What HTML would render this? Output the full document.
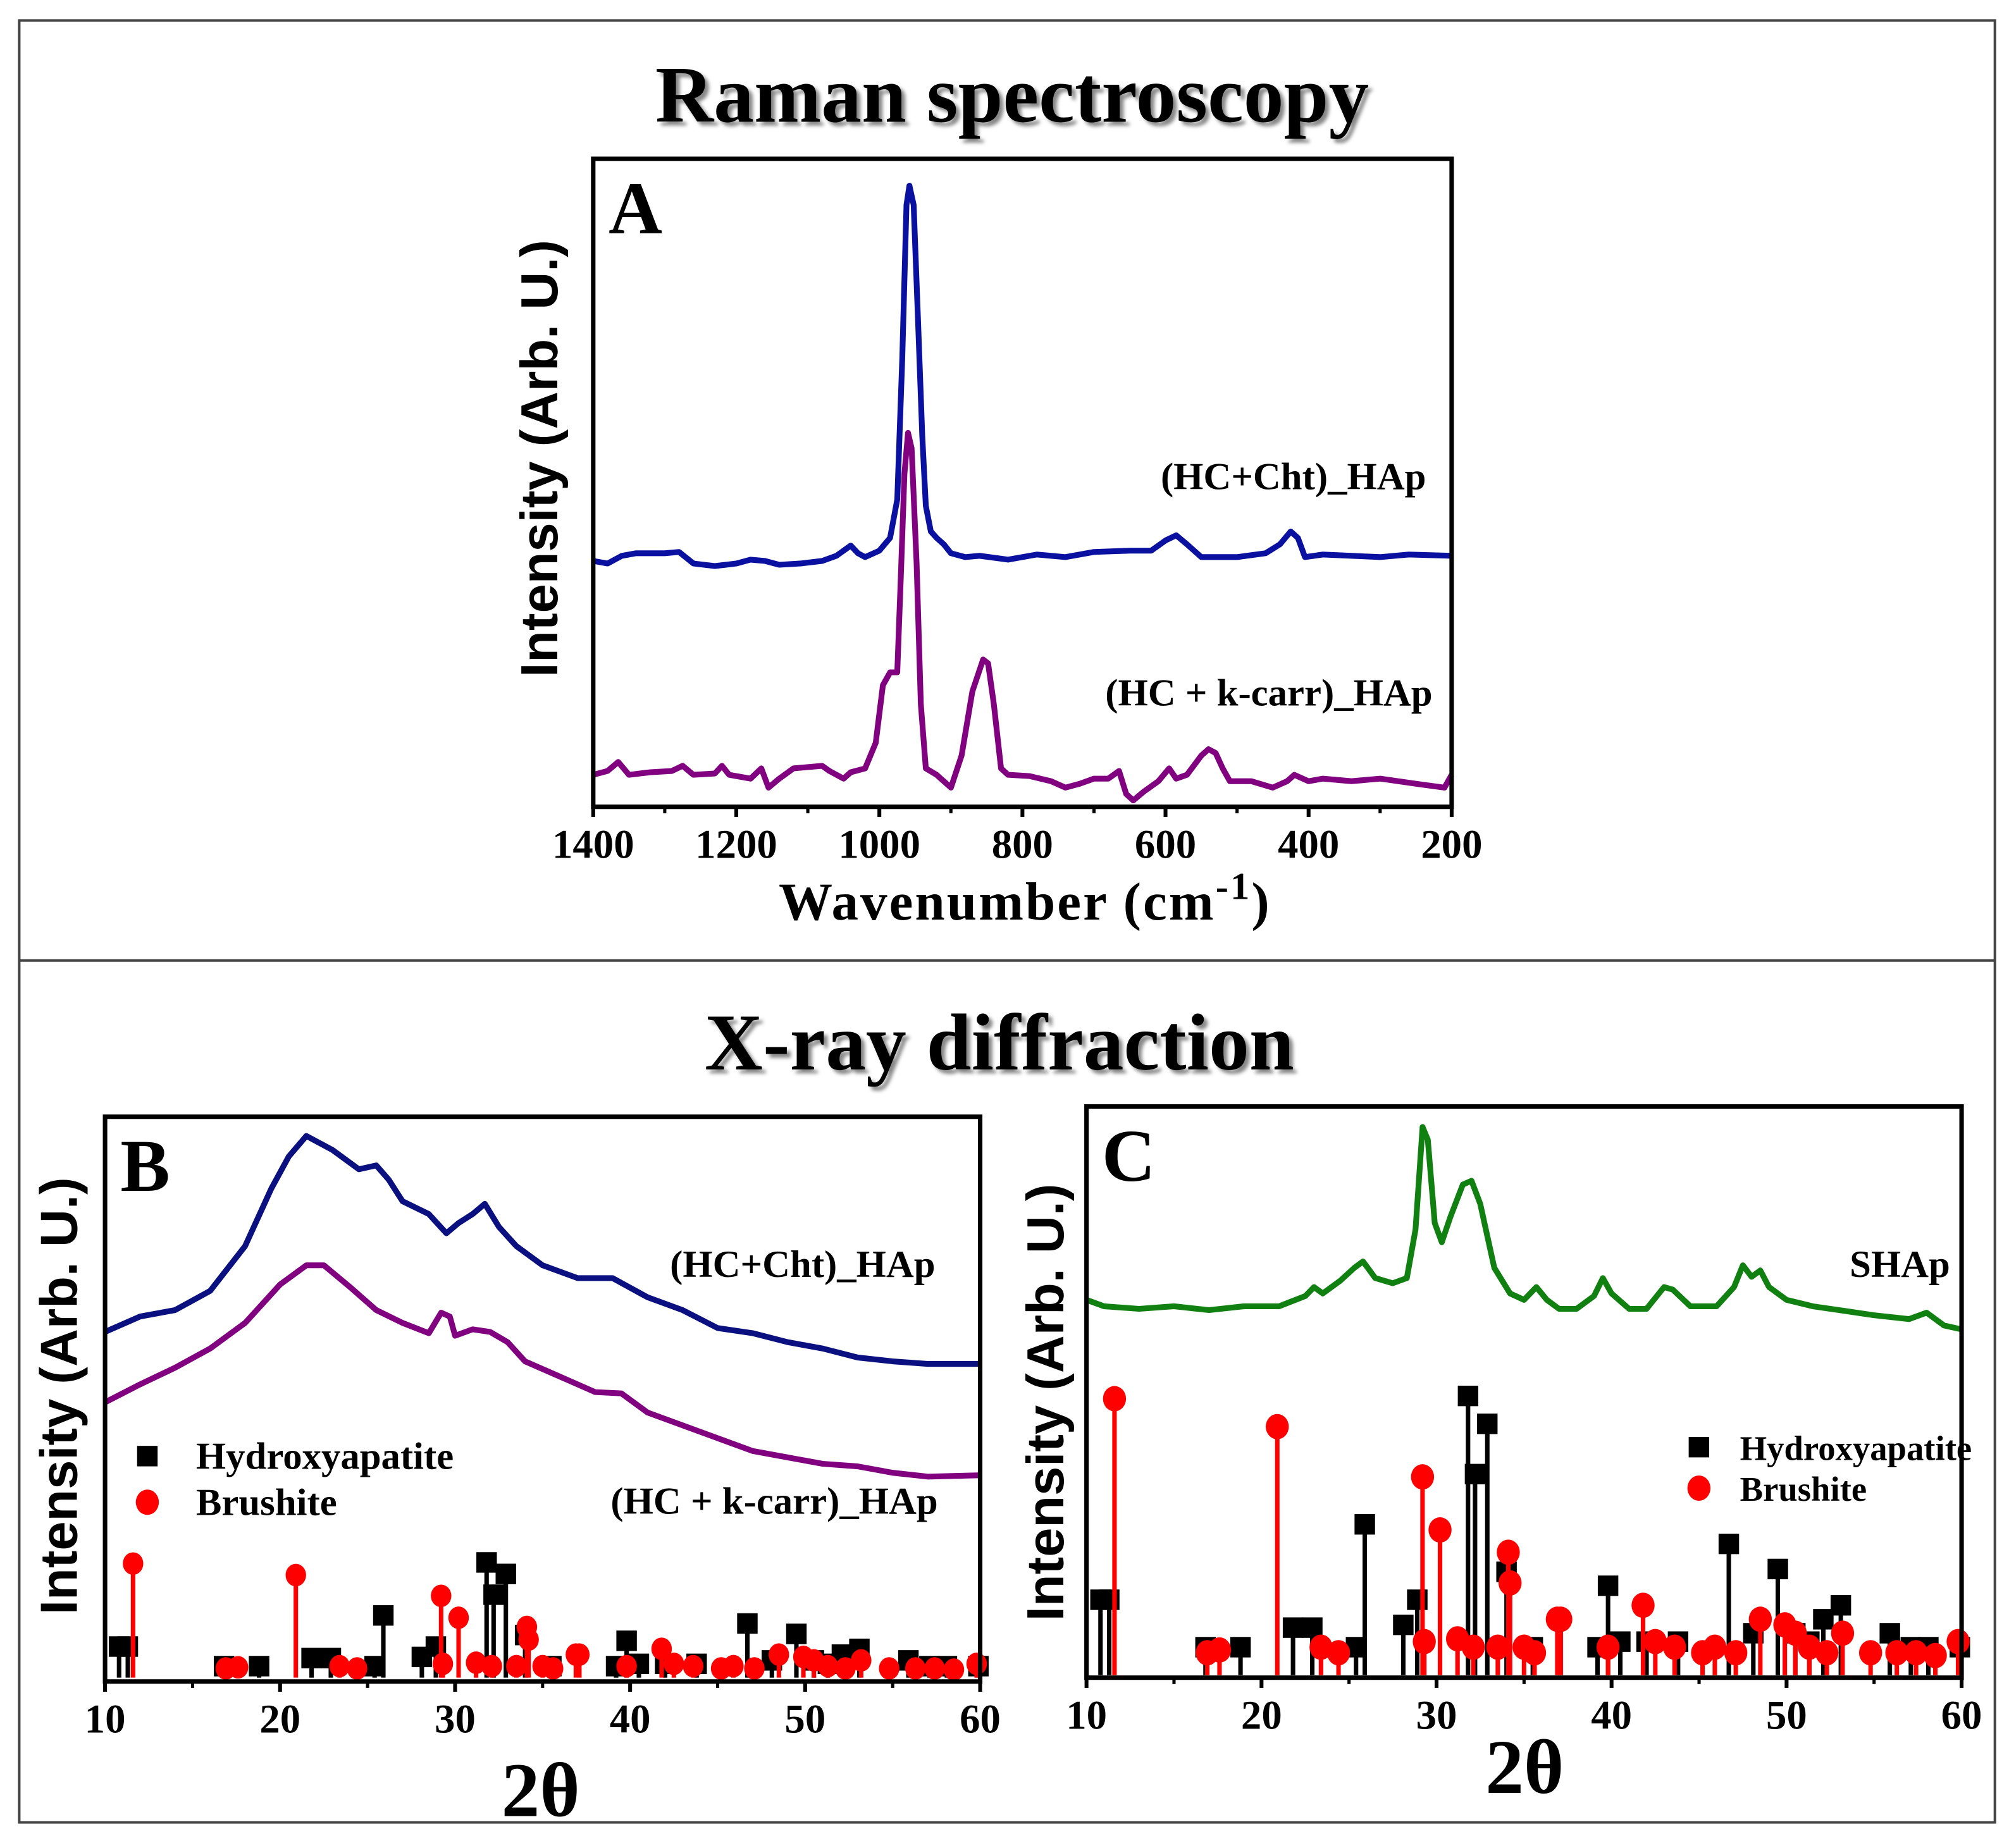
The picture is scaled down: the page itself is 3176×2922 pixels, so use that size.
<!DOCTYPE html>
<html><head><meta charset="utf-8"><style>
html,body{margin:0;padding:0;background:#fff}
svg{display:block}
.ttl{font-family:"Liberation Serif",serif;font-weight:bold;font-size:63px;fill:#000}
.tick{font-family:"Liberation Serif",serif;font-weight:bold;font-size:32px;fill:#000}
.lab{font-family:"Liberation Serif",serif;font-weight:bold;font-size:30px;fill:#000}
.labs{font-family:"Liberation Serif",serif;font-weight:bold;font-size:27px;fill:#000}
.ylab{font-family:"Liberation Sans",sans-serif;font-weight:bold;font-size:41px;fill:#000}
.pl{font-family:"Liberation Serif",serif;font-weight:bold;font-size:58px;fill:#000}
</style></head><body>
<svg id="fig" width="3176" height="2922" viewBox="0 0 1568 1443" preserveAspectRatio="none" xmlns="http://www.w3.org/2000/svg">
<defs><filter id="sh" x="-5%" y="-20%" width="110%" height="140%"><feDropShadow dx="3" dy="3" stdDeviation="1.5" flood-color="#888"/></filter></defs>
<rect x="15" y="16" width="1542" height="1407" fill="none" stroke="#444" stroke-width="2"/>
<line x1="15" y1="750" x2="1557" y2="750" stroke="#444" stroke-width="2"/>
<text class="ttl" x="790" y="95" text-anchor="middle" filter="url(#sh)">Raman spectroscopy</text>
<text class="ttl" x="780" y="835" text-anchor="middle" filter="url(#sh)">X-ray diffraction</text>
<g id="gA"></g>
<g id="gB"></g>
<g id="gC"></g>
</svg>
<script>
// ---- Panel A data (wavenumber, intensity above axis) ----
const ramanX1 = [1400,1380,1360,1340,1300,1280,1260,1230,1200,1180,1160,1140,1110,1080,1060,1040,1030,1020,1000,985,975,968,962,958,952,946,940,935,928,920,910,900,880,860,820,780,740,700,650,620,600,585,570,550,500,460,440,425,415,405,380,340,300,260,200];
const ramanY1 = [192,190,196,198,198,199,190,188,190,193,192,189,190,192,196,204,198,195,200,210,240,350,470,485,470,380,290,235,215,210,205,198,195,196,193,197,195,199,200,200,208,212,205,195,195,198,205,215,210,195,197,196,195,197,196];
const ramanX2 = [1400,1380,1365,1350,1320,1290,1275,1260,1230,1220,1210,1180,1165,1155,1140,1120,1080,1070,1050,1040,1020,1005,995,985,975,970,965,960,955,948,942,935,920,900,885,870,855,848,840,830,820,790,760,740,720,700,680,665,655,645,630,610,595,585,570,550,540,530,520,510,480,450,430,420,400,380,340,300,250,210,200];
const ramanY2 = [25,28,35,25,27,28,32,25,26,32,25,22,30,15,22,30,32,28,22,27,30,50,95,105,105,180,260,292,280,190,80,30,25,15,40,90,115,112,80,30,25,24,20,15,18,22,22,28,10,5,12,20,30,22,25,40,45,42,30,20,20,15,20,25,20,22,20,22,18,15,25];
const ramanTicks = [1400,1200,1000,800,600,400,200];
// ---- Panel B data (2theta, intensity) ----
const xrdBX1 = [10,12,14,16,18,19.5,20.5,21.5,23,24.5,25.5,26.2,27,28.5,29.5,30.2,31,31.7,32.5,33.5,35,37,39,41,43,45,47,49,51,53,55,57,60];
const xrdBY1 = [273,285,290,305,340,385,410,426,415,400,403,392,375,365,350,358,365,373,355,340,325,315,315,300,290,276,272,265,260,253,250,248,248];
const xrdBX2 = [10,12,14,16,18,20,21.5,22.5,24,25.5,27,28.5,29.2,29.7,30,31,32,33,34,36,38,39.5,41,43,45,47,49,51,53,55,57,60];
const xrdBY2 = [218,232,245,260,280,310,325,325,308,290,280,272,288,285,270,275,273,265,250,238,226,225,210,200,190,180,175,170,168,163,160,161];
// ---- Panel C data ----
const xrdCX = [10,11,13,15,17,19,21,22.5,23,23.5,24.5,25.3,25.8,26.5,27.5,28.3,28.8,29.2,29.5,29.9,30.3,30.8,31.5,32,32.5,33.3,34.2,35,35.7,36.3,37,38,39,39.5,40,41,42,43,43.5,44.5,46,47,47.5,48,48.5,49,50,51.5,53,55,57,58,59,60];
const xrdCY = [295,290,288,290,287,290,290,298,305,300,310,320,325,312,308,312,350,430,420,355,340,360,385,388,370,320,300,295,305,295,288,288,298,312,300,288,288,305,303,290,290,305,322,313,318,305,295,290,287,283,280,285,275,272];
// ---- Reference sticks (2theta, relative intensity) ----
const hapPos = [10.8,11.3,16.8,18.8,21.8,22.9,25.4,25.9,28.1,28.9,31.8,32.2,32.9,34.0,35.5,39.2,39.8,40.5,42.0,43.8,46.7,48.1,49.5,50.5,51.3,52.1,53.1,55.9,57.1,58.1,59.9];
const hapInt = [0.27,0.27,0.1,0.1,0.17,0.17,0.1,0.54,0.18,0.27,1.0,0.72,0.9,0.37,0.1,0.1,0.32,0.12,0.12,0.12,0.47,0.15,0.38,0.15,0.12,0.2,0.25,0.15,0.1,0.1,0.1];
const brPos = [11.6,16.9,17.6,20.9,23.4,24.4,29.2,29.3,30.2,31.2,32.1,33.5,34.1,34.2,35.0,35.6,36.9,37.1,39.8,41.8,42.5,43.6,45.2,45.9,47.1,48.5,49.9,50.5,51.3,52.3,53.2,54.8,56.3,57.4,58.5,59.8];
const brInt = [0.99,0.08,0.09,0.89,0.1,0.08,0.71,0.12,0.52,0.13,0.1,0.1,0.44,0.33,0.1,0.08,0.2,0.2,0.1,0.25,0.12,0.1,0.08,0.1,0.08,0.2,0.18,0.15,0.1,0.08,0.15,0.08,0.08,0.08,0.07,0.12];
const xrdTicks = [10,20,30,40,50,60];

const NS = "http://www.w3.org/2000/svg";
function mk(parent, tag, attrs){const e=document.createElementNS(NS,tag);for(const k in attrs)e.setAttribute(k,attrs[k]);parent.appendChild(e);return e;}
function lin(d0,d1,r0,r1){return v=>r0+(v-d0)/(d1-d0)*(r1-r0);}

function frame(g,x0,y0,x1,y1,ticks,xs,minor,label){
  const r=mk(g,'rect',{x:x0,y:y0,width:x1-x0,height:y1-y0,fill:'none',stroke:'#000','stroke-width':3.5});
  
  
  ticks.forEach(t=>{
    const l=mk(g,'line',{x1:xs(t),x2:xs(t),y1:y1,y2:y1+8,stroke:'#000','stroke-width':3});
    
    
    const tx=mk(g,'text',{x:xs(t),y:y1+40,'text-anchor':'middle',class:'tick'});tx.textContent=t;
    
    
  });
  minor.forEach(t=>{
    const l=mk(g,'line',{x1:xs(t),x2:xs(t),y1:y1,y2:y1+5,stroke:'#000','stroke-width':2.5});
    
    
  });
  const p=mk(g,'text',{x:x0+12,y:y0+58,class:'pl'});p.textContent=label;
  
  
}
function curve(g,X,Y,xs,ys,color,name){
  const d=X.map((x,i)=>(i?'L':'M')+xs(x).toFixed(1)+','+ys(Y[i]).toFixed(1)).join(' ');
  const p=mk(g,'path',{d:d,fill:'none',stroke:color,'stroke-width':4.5,'stroke-linejoin':'round'});
  
  
}
function txt(g,x,y,s,cls,name,anchor){
  const t=mk(g,'text',{x:x,y:y,class:cls,'text-anchor':anchor||'start'});t.textContent=s;
  
  return t;
}
function ylabel(g,x,y){
  const t=mk(g,'text',{x:x,y:y,class:'ylab','text-anchor':'middle',transform:'rotate(-90 '+x+' '+y+')'});
  t.textContent='Intensity (Arb. U.)';
  
  
}
function sticks(g,xs,base,full,sq,rad){
  hapPos.forEach((p,i)=>{
    const x=xs(p),top=base-hapInt[i]*full;
    const l=mk(g,'line',{x1:x,x2:x,y1:base,y2:top,stroke:'#000','stroke-width':3.5});
    
    
    const r=mk(g,'rect',{x:x-sq/2,y:top-sq/2,width:sq,height:sq,fill:'#000'});
    
    
  });
  brPos.forEach((p,i)=>{
    const x=xs(p),top=base-brInt[i]*full;
    const l=mk(g,'line',{x1:x,x2:x,y1:base,y2:top,stroke:'#f00','stroke-width':3.5});
    
    
    const c=mk(g,'ellipse',{cx:x,cy:top,rx:rad,ry:rad*1.1,fill:'#f00'});
    
    
  });
}
function legend(g,x,y,gap,sq,rad,cls,off){
  const r=mk(g,'rect',{x:x-sq/2,y:y-sq/2,width:sq,height:sq,fill:'#000'});
  
  
  txt(g,x+off,y+10,'Hydroxyapatite',cls,'legend-hydroxyapatite');
  const c=mk(g,'ellipse',{cx:x,cy:y+gap,rx:rad,ry:rad*1.1,fill:'#f00'});
  
  
  txt(g,x+off,y+gap+10,'Brushite',cls,'legend-brushite');
}

// Panel A
(function(){
  const g=document.getElementById('gA');
  const x0=463,x1=1133,y0=124,y1=630;
  const xs=lin(1400,200,x0,x1), ys=lin(0,506,y1,y0);
  curve(g,ramanX1,ramanY1,xs,ys,'#0a10a0','raman-hc-cht-line');
  curve(g,ramanX2,ramanY2,xs,ys,'#800080','raman-hc-kcarr-line');
  const minor=[];for(let v=1300;v>200;v-=200)minor.push(v);
  frame(g,x0,y0,x1,y1,ramanTicks,xs,minor,'A');
  txt(g,1113,382,'(HC+Cht)_HAp','lab','label-hc-cht','end');
  txt(g,1118,551,'(HC + k-carr)_HAp','lab','label-hc-kcarr','end');
  ylabel(g,435,358);
  const t=txt(g,800,718,'Wavenumber (cm','ttl','x-axis-title','middle');
  t.style.fontSize='42px';t.setAttribute('letter-spacing','1.5');
  const s=mk(t,'tspan',{dy:-16,'font-size':'30'});s.textContent='-1';
  const s2=mk(t,'tspan',{dy:16});s2.textContent=')';
})();
// Panel B
(function(){
  const g=document.getElementById('gB');
  const x0=82,x1=765,y0=872,y1=1313;
  const xs=lin(10,60,x0,x1), ys=lin(0,441,y1,y0);
  sticks(g,xs,1310,90,16,8);
  curve(g,xrdBX1,xrdBY1,xs,ys,'#0a1080','xrd-b-hc-cht-line');
  curve(g,xrdBX2,xrdBY2,xs,ys,'#800080','xrd-b-hc-kcarr-line');
  frame(g,x0,y0,x1,y1,xrdTicks,xs,[15,25,35,45,55],'B');
  txt(g,730,997,'(HC+Cht)_HAp','lab','label-b-hc-cht','end');
  txt(g,732,1182,'(HC + k-carr)_HAp','lab','label-b-hc-kcarr','end');
  legend(g,115,1137,36,16,9,'lab',38);
  ylabel(g,60,1090);
  const t=txt(g,422,1418,'2θ','ttl','x-axis-title-b','middle');t.style.fontSize='60px';
})();
// Panel C
(function(){
  const g=document.getElementById('gC');
  const x0=848,x1=1531,y0=864,y1=1310;
  const xs=lin(10,60,x0,x1), ys=lin(0,446,y1,y0);
  sticks(g,xs,1308,218,16,9);
  curve(g,xrdCX,xrdCY,xs,ys,'#108010','xrd-c-shap-line');
  frame(g,x0,y0,x1,y1,xrdTicks,xs,[15,25,35,45,55],'C');
  txt(g,1522,997,'SHAp','lab','label-shap','end');
  legend(g,1326,1130,32,16,9,'labs',32);
  ylabel(g,830,1095);
  const t=txt(g,1190,1400,'2θ','ttl','x-axis-title-c','middle');t.style.fontSize='60px';
})();
</script>
</body></html>
